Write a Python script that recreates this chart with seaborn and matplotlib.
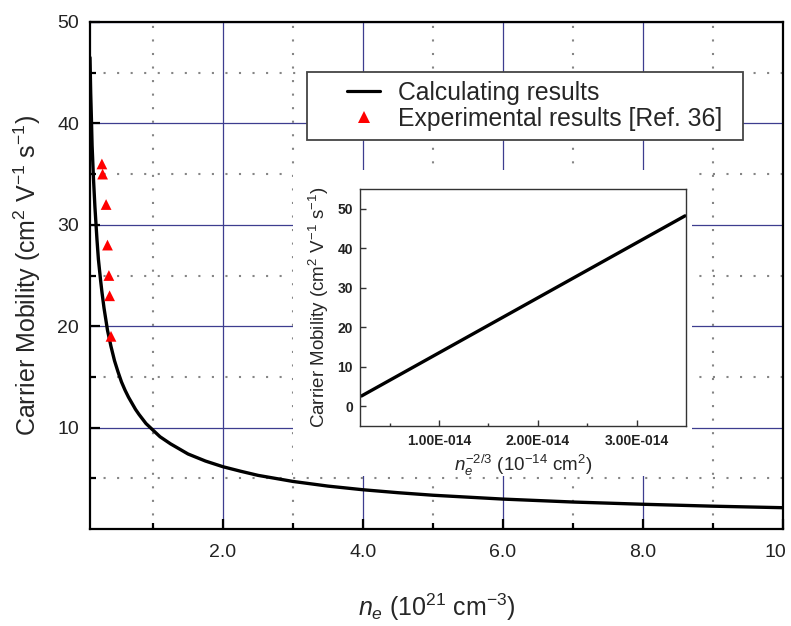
import matplotlib
matplotlib.use("Agg")
import matplotlib.pyplot as plt
from matplotlib.patches import Rectangle
from matplotlib.lines import Line2D
from matplotlib.legend_handler import HandlerLine2D
from matplotlib.transforms import ScaledTranslation
import seaborn as sns

# Calculated carrier mobility vs electron concentration (n_e in 10^21 cm^-3)
n_calc = [0.10, 0.11, 0.12, 0.13, 0.15, 0.17, 0.20, 0.22, 0.25, 0.27, 0.30, 0.35,
          0.40, 0.45, 0.50, 0.55, 0.60, 0.65, 0.70, 0.75, 0.80, 0.90, 1.0, 1.1,
          1.25, 1.4, 1.5, 1.75, 2.0, 2.25, 2.5, 3.0, 3.5, 4.0, 4.5, 5.0, 6.0,
          7.0, 8.0, 9.0, 10.0]
mu_calc = [46.5, 43.0, 40.5, 37.8, 34.5, 31.8, 28.5, 26.6, 24.6, 23.4, 21.8, 19.6,
           18.0, 16.6, 15.5, 14.5, 13.7, 13.0, 12.4, 11.8, 11.3, 10.4, 9.75, 9.1,
           8.4, 7.8, 7.4, 6.7, 6.14, 5.7, 5.29, 4.69, 4.23, 3.87, 3.58, 3.33, 2.95,
           2.66, 2.44, 2.25, 2.10]

# Experimental values [Ref. 36]
n_exp = [0.27, 0.28, 0.33, 0.35, 0.37, 0.38, 0.40]
mu_exp = [36, 35, 32, 28, 25, 23, 19]

# Inset: mobility vs n_e^(-2/3) (cm^2), a straight line
inset_x = [0.215e-14, 3.49e-14]
inset_mu = [2.6, 48.2]

x_ticks = [2, 4, 6, 8, 10]
x_tick_labels = ["2.0", "4.0", "6.0", "8.0", "10"]
x_minor = [1, 3, 5, 7, 9]
y_ticks = [10, 20, 30, 40, 50]
y_minor = [5, 15, 25, 35, 45]
inset_xticks = [1e-14, 2e-14, 3e-14]
inset_xtick_labels = ["1.00E-014", "2.00E-014", "3.00E-014"]
inset_xminor = [0.5e-14, 1.5e-14, 2.5e-14]
inset_yticks = [0, 10, 20, 30, 40, 50]

sns.set_style("white")
plt.rcParams["font.family"] = ["Liberation Sans", "DejaVu Sans"]
plt.rcParams["mathtext.fontset"] = "custom"
plt.rcParams["mathtext.rm"] = "Liberation Sans"
plt.rcParams["mathtext.it"] = "Liberation Sans:italic"
plt.rcParams["mathtext.bf"] = "Liberation Sans:bold"

W, H = 791, 626
fig = plt.figure(figsize=(W / 100, H / 100), dpi=100)
fig.patch.set_facecolor("white")

def fbox(x0, y0, x1, y1):
    return [x0 / W, (H - y1) / H, (x1 - x0) / W, (y1 - y0) / H]

ax = fig.add_axes(fbox(90, 22, 783, 529))
ax.set_facecolor("white")
ax.set_axisbelow(True)

sns.lineplot(x=n_calc, y=mu_calc, ax=ax, color="black", lw=2.4, zorder=3,
             sort=True, estimator=None, legend=False)
sns.scatterplot(x=n_exp, y=mu_exp, ax=ax, marker="^", color="#ff0000", s=60,
                edgecolor="none", zorder=4, legend=False)

ax.set_xlim(0.1, 10)
ax.set_ylim(0, 50)
ax.set_xticks(x_ticks, x_tick_labels)
ax.set_xticks(x_minor, minor=True)
ax.set_yticks(y_ticks, [str(v) for v in y_ticks])
ax.set_yticks(y_minor, minor=True)

ax.grid(which="major", color="#3d3d8f", lw=0.9, ls="-")
ax.grid(which="minor", color="#858585", lw=1.5, ls=(0, (1, 5.5)))

for s in ax.spines.values():
    s.set_color("black")
    s.set_linewidth(1.6)

ax.tick_params(which="both", direction="in", width=1.6, colors="black",
               bottom=True, left=True, top=False, right=False)
ax.tick_params(which="major", length=7, labelsize=14)
ax.tick_params(which="minor", length=4.5)
ax.tick_params(axis="x", which="major", pad=11)
ax.tick_params(axis="y", which="major", pad=8)
for lab in ax.get_xticklabels() + ax.get_yticklabels():
    lab.set_color("#222222")
# keep the last x label inside the canvas
last = ax.get_xticklabels()[-1]
last.set_transform(last.get_transform() + ScaledTranslation(-8 / 100, 0, fig.dpi_scale_trans))

ax.set_xlabel(r"$n_e$ (10$^{21}$ cm$^{-3}$)", fontsize=18, labelpad=22)
ax.set_ylabel(r"Carrier Mobility (cm$^2$ V$^{-1}$ s$^{-1}$)", fontsize=18, labelpad=10)

# white panel behind the inset and its labels
panel = Rectangle((293 / W, (H - 476) / H), (692 - 293) / W, (476 - 170) / H,
                  transform=fig.transFigure, facecolor="white", edgecolor="none",
                  zorder=1.5)
ax.add_patch(panel)

fs_leg = 17.8
h_line = Line2D([], [], color="black", lw=2.3)
h_pts = Line2D([], [], color="#ff0000", marker="^", ls="none", markersize=8,
               markeredgewidth=0)
leg = ax.legend([h_line, h_pts],
                ["Calculating results", "Experimental results [Ref. 36]"],
                loc="upper left",
                bbox_to_anchor=(307 / W, (H - 145) / H, (743 - 307) / W, (145 - 72) / H),
                bbox_transform=fig.transFigure, mode="expand", borderaxespad=0,
                prop={"size": fs_leg}, fancybox=False, framealpha=1,
                edgecolor="#444444", borderpad=0.35, labelspacing=0.1,
                handlelength=3.88, handletextpad=-0.54,
                handler_map={h_line: HandlerLine2D(numpoints=2, marker_pad=1.27)})
leg.get_frame().set_linewidth(1.3)
leg.set_zorder(6)

# inset
axi = fig.add_axes(fbox(360, 189, 686, 426))
axi.set_facecolor("white")
sns.lineplot(x=inset_x, y=inset_mu, ax=axi, color="black", lw=2.4,
             estimator=None, legend=False)
axi.set_xlim(0.2e-14, 3.5e-14)
axi.set_ylim(-5, 55)
axi.set_xticks(inset_xticks, inset_xtick_labels)
axi.set_xticks(inset_xminor, minor=True)
axi.set_yticks(inset_yticks, [str(v) for v in inset_yticks])
for s in axi.spines.values():
    s.set_color("#333333")
    s.set_linewidth(1.0)
axi.tick_params(which="both", direction="in", width=1, colors="#333333",
                bottom=True, left=True, top=False, right=False)
axi.tick_params(which="major", length=4, labelsize=10)
axi.tick_params(which="minor", length=2.5)
axi.tick_params(axis="x", which="major", pad=6)
axi.tick_params(axis="y", which="major", pad=5)
for lab in axi.get_xticklabels() + axi.get_yticklabels():
    lab.set_fontweight("bold")
    lab.set_color("#222222")
axi.set_xlabel(r"$n_e^{-2/3}$ (10$^{-14}$ cm$^2$)", fontsize=13.5, labelpad=3)
axi.set_ylabel(r"Carrier Mobility (cm$^2$ V$^{-1}$ s$^{-1}$)", fontsize=13.5, labelpad=5)

fig.savefig("out.png", dpi=100, facecolor="white")
